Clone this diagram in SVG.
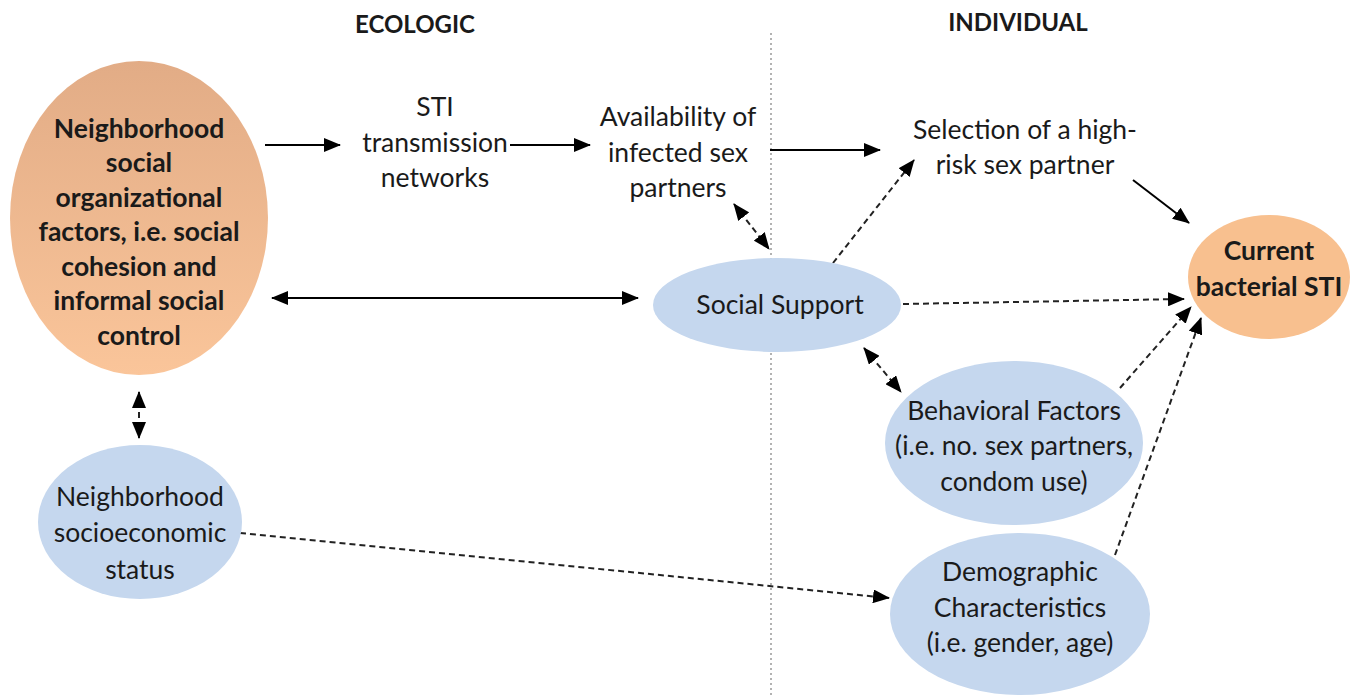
<svg xmlns="http://www.w3.org/2000/svg" width="1363" height="696" viewBox="0 0 1363 696">
<defs>
<linearGradient id="og" x1="0" y1="0" x2="0" y2="1">
<stop offset="0" stop-color="#E2AC86"/>
<stop offset="1" stop-color="#FAC59A"/>
</linearGradient>
<marker id="ah" markerUnits="userSpaceOnUse" markerWidth="17" markerHeight="14" refX="16" refY="7" orient="auto-start-reverse">
<path d="M0,0 L17,7 L0,14 Z" fill="#000"/>
</marker>
<style>
text{font-family:Lato,"Open Sans",sans-serif;font-size:26.5px;fill:#1a1a1a;text-anchor:middle}
.b{font-weight:bold}
.h{font-weight:bold;font-size:24px}
.blue{fill:#C5D7EE}
.c{stroke:#000;stroke-width:2;fill:none}
.d{stroke:#222;stroke-width:2;fill:none;stroke-dasharray:6 4}
</style>
</defs>
<rect width="1363" height="696" fill="#fff"/>
<g id="headers">
<text class="h" x="415" y="33">ECOLOGIC</text>
<text class="h" x="1018" y="31">INDIVIDUAL</text>
<line x1="771" y1="33" x2="771" y2="696" stroke="#999" stroke-width="1.5" stroke-dasharray="2 3"/>
</g>
<g id="connectors">
<line class="c" x1="265" y1="145" x2="340" y2="145" marker-end="url(#ah)"/>
<line class="c" x1="510" y1="145" x2="590" y2="145" marker-end="url(#ah)"/>
<line class="c" x1="770" y1="150" x2="880" y2="150" marker-end="url(#ah)"/>
<line class="c" x1="1133" y1="180" x2="1189" y2="223" marker-end="url(#ah)"/>
<line class="c" x1="272" y1="298" x2="638" y2="298" marker-start="url(#ah)" marker-end="url(#ah)"/>
<line class="d" x1="734" y1="204" x2="769" y2="249" marker-start="url(#ah)" marker-end="url(#ah)"/>
<line class="d" x1="833" y1="263" x2="914" y2="160" marker-end="url(#ah)"/>
<line class="d" x1="903" y1="304" x2="1184" y2="299" marker-end="url(#ah)"/>
<line class="d" x1="864" y1="348" x2="901" y2="392" marker-start="url(#ah)" marker-end="url(#ah)"/>
<line class="d" x1="1120" y1="388" x2="1191" y2="307" marker-end="url(#ah)"/>
<line class="d" x1="1115" y1="555" x2="1201" y2="318" marker-end="url(#ah)"/>
<line class="d" x1="139" y1="392" x2="139" y2="438" marker-start="url(#ah)" marker-end="url(#ah)"/>
<line class="d" x1="240" y1="533" x2="889" y2="598" marker-end="url(#ah)"/>
</g>
<g id="n-neigh-social">
<ellipse cx="139" cy="218" rx="129" ry="157" fill="url(#og)"/>
<text class="b" x="139" y="138">Neighborhood</text>
<text class="b" x="139" y="172">social</text>
<text class="b" x="139" y="207">organizational</text>
<text class="b" x="139" y="241">factors, i.e. social</text>
<text class="b" x="139" y="276">cohesion and</text>
<text class="b" x="139" y="310">informal social</text>
<text class="b" x="139" y="345">control</text>
</g>
<g id="n-sti-networks">
<text x="435" y="116">STI</text>
<text x="435" y="152">transmission</text>
<text x="435" y="187">networks</text>
</g>
<g id="n-availability">
<text x="678" y="126">Availability of</text>
<text x="678" y="162">infected sex</text>
<text x="678" y="197">partners</text>
</g>
<g id="n-selection">
<text x="1025" y="139">Selection of a high-</text>
<text x="1025" y="174">risk sex partner</text>
</g>
<g id="n-current-sti">
<ellipse cx="1269" cy="277" rx="81" ry="62" fill="#F8C08F"/>
<text class="b" x="1269" y="260">Current</text>
<text class="b" x="1269" y="296">bacterial STI</text>
</g>
<g id="n-social-support">
<ellipse class="blue" cx="777" cy="305" rx="124" ry="47"/>
<text x="780" y="314">Social Support</text>
</g>
<g id="n-behavioral">
<ellipse class="blue" cx="1014" cy="443" rx="129" ry="82"/>
<text x="1014" y="420">Behavioral Factors</text>
<text x="1014" y="455">(i.e. no. sex partners,</text>
<text x="1014" y="491">condom use)</text>
</g>
<g id="n-demographic">
<ellipse class="blue" cx="1020" cy="614" rx="130" ry="81"/>
<text x="1020" y="581">Demographic</text>
<text x="1020" y="617">Characteristics</text>
<text x="1020" y="652">(i.e. gender, age)</text>
</g>
<g id="n-neigh-ses">
<ellipse class="blue" cx="140" cy="522" rx="102" ry="77"/>
<text x="140" y="506">Neighborhood</text>
<text x="140" y="542">socioeconomic</text>
<text x="140" y="579">status</text>
</g>
</svg>
